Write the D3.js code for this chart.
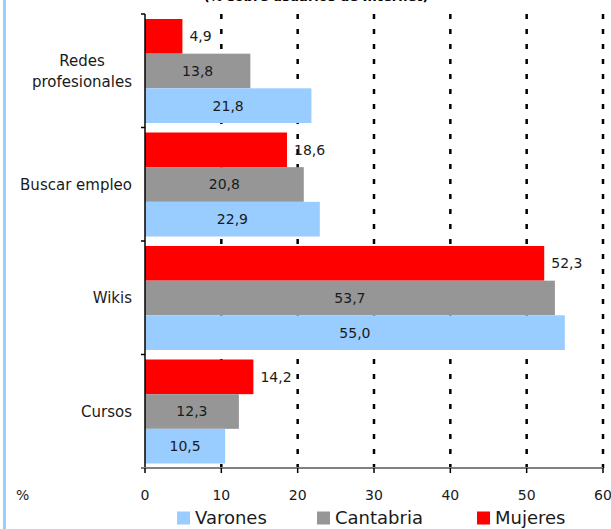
<!DOCTYPE html>
<html>
<head>
<meta charset="utf-8">
<script src="https://cdn.jsdelivr.net/npm/d3@7"></script>
<style>
  html, body { margin: 0; padding: 0; background: #fff; }
  svg { display: block; font-family: "DejaVu Sans", sans-serif; }
</style>
</head>
<body>
<script>
// chart data
const categories = ["Redes profesionales", "Buscar empleo", "Wikis", "Cursos"]
const seriesNames = ["Mujeres", "Cantabria", "Varones"]
const mujeres = [4.9, 18.6, 52.3, 14.2]
const cantabria = [13.8, 20.8, 53.7, 12.3]
const varones = [21.8, 22.9, 55.0, 10.5]
const xTicks = [0, 10, 20, 30, 40, 50, 60]
const legendOrder = ["Varones", "Cantabria", "Mujeres"]

const COLORS = { Mujeres: "#ff0000", Cantabria: "#969696", Varones: "#99ccff" }

const width = 611
const height = 529
const plotLeft = 145, plotRight = 603, plotTop = 14, plotBottom = 468

const svg = d3.select("body").append("svg")
  .attr("width", width)
  .attr("height", height)

// light blue stripe at the left edge
svg.append("rect")
  .attr("x", 3).attr("y", 0)
  .attr("width", 3).attr("height", height)
  .attr("fill", "#99ccff")

// cut-off title at the very top
svg.append("text")
  .text("(% sobre usuarios de Internet)")
  .attr("x", 316).attr("y", 1)
  .attr("text-anchor", "middle")
  .attr("font-weight", "bold")
  .attr("font-size", 13)

const x = d3.scaleLinear().domain([0, 60]).range([plotLeft, plotRight])
const y = d3.scaleBand().domain(categories).range([plotTop, plotBottom])
const ySub = d3.scaleBand().domain(seriesNames).range([5, y.bandwidth() - 4.5])

const values = { Mujeres: mujeres, Cantabria: cantabria, Varones: varones }
const data = []
categories.forEach((c, i) => {
  seriesNames.forEach(s => data.push({ cat: c, series: s, value: values[s][i] }))
})

const fmt = v => d3.format(".1f")(v).replace(".", ",")

// dotted gridlines
svg.append("g")
  .selectAll("line").data(xTicks.filter(t => t > 0))
  .enter().append("line")
    .attr("x1", d => x(d)).attr("x2", d => x(d))
    .attr("y1", plotTop).attr("y2", plotBottom)
    .attr("stroke", "#000")
    .attr("stroke-width", 2.5)
    .attr("stroke-dasharray", "5,10")

// bars
svg.append("g")
  .selectAll("rect").data(data)
  .enter().append("rect")
    .attr("x", x(0))
    .attr("y", d => y(d.cat) + ySub(d.series))
    .attr("width", d => x(d.value) - x(0))
    .attr("height", ySub.bandwidth())
    .attr("fill", d => COLORS[d.series])

// value labels
svg.append("g")
  .selectAll("text").data(data)
  .enter().append("text")
    .text(d => fmt(d.value))
    .attr("x", d => d.series === "Mujeres" ? x(d.value) + 7 : (x(0) + x(d.value)) / 2)
    .attr("y", d => y(d.cat) + ySub(d.series) + ySub.bandwidth() / 2)
    .attr("dy", "0.35em")
    .attr("text-anchor", d => d.series === "Mujeres" ? "start" : "middle")
    .attr("font-size", 14)
    .attr("fill", "#1a1a1a")

// y axis
const yAxisG = svg.append("g")
yAxisG.append("line")
  .attr("x1", plotLeft).attr("x2", plotLeft)
  .attr("y1", plotTop).attr("y2", plotBottom)
  .attr("stroke", "#000").attr("stroke-width", 1.5)
yAxisG.selectAll("line.tick").data(categories.concat(["end"]))
  .enter().append("line")
    .attr("class", "tick")
    .attr("x1", plotLeft - 4).attr("x2", plotLeft)
    .attr("y1", (d, i) => plotTop + i * y.step())
    .attr("y2", (d, i) => plotTop + i * y.step())
    .attr("stroke", "#000").attr("stroke-width", 1.5)

// category labels (centred lines, right edge at x=132)
categories.forEach(c => {
  const words = c === "Redes profesionales" ? ["Redes", "profesionales"] : [c]
  const g = svg.append("text")
    .attr("font-size", 15)
    .attr("fill", "#1a1a1a")
  const lh = 21
  const cy = y(c) + y.bandwidth() / 2
  words.forEach((w, i) => {
    g.append("tspan")
      .text(w)
      .attr("y", cy + (i - (words.length - 1) / 2) * lh)
      .attr("dy", "0.35em")
  })
  const tspans = g.selectAll("tspan").nodes()
  const maxW = d3.max(tspans, n => n.getComputedTextLength())
  g.attr("text-anchor", "middle")
  g.selectAll("tspan").attr("x", 132 - maxW / 2)
})

// x axis
const xAxisG = svg.append("g")
xAxisG.append("line")
  .attr("x1", plotLeft - 4).attr("x2", plotRight)
  .attr("y1", plotBottom).attr("y2", plotBottom)
  .attr("stroke", "#808080").attr("stroke-width", 2)
xAxisG.selectAll("line.tick").data(xTicks)
  .enter().append("line")
    .attr("x1", d => x(d)).attr("x2", d => x(d))
    .attr("y1", plotBottom).attr("y2", plotBottom + 5)
    .attr("stroke", "#000").attr("stroke-width", 1.5)
xAxisG.selectAll("text").data(xTicks)
  .enter().append("text")
    .text(d => d)
    .attr("x", d => x(d))
    .attr("y", 495)
    .attr("dy", "0.35em")
    .attr("text-anchor", "middle")
    .attr("font-size", 14)
    .attr("fill", "#1a1a1a")

svg.append("text")
  .text("%")
  .attr("x", 16).attr("y", 495)
  .attr("dy", "0.35em")
  .attr("font-size", 14)
  .attr("fill", "#1a1a1a")

// legend
const legendX = [177, 317, 477]
const legend = svg.append("g")
  .selectAll("g").data(legendOrder)
  .enter().append("g")
    .attr("transform", (d, i) => "translate(" + legendX[i] + ",518)")
legend.append("rect")
  .attr("x", 0).attr("y", -6.5)
  .attr("width", 13).attr("height", 13)
  .attr("fill", d => COLORS[d])
legend.append("text")
  .text(d => d)
  .attr("x", 18)
  .attr("dy", "0.35em")
  .attr("font-size", 18)
  .attr("fill", "#1a1a1a")
</script>
</body>
</html>
